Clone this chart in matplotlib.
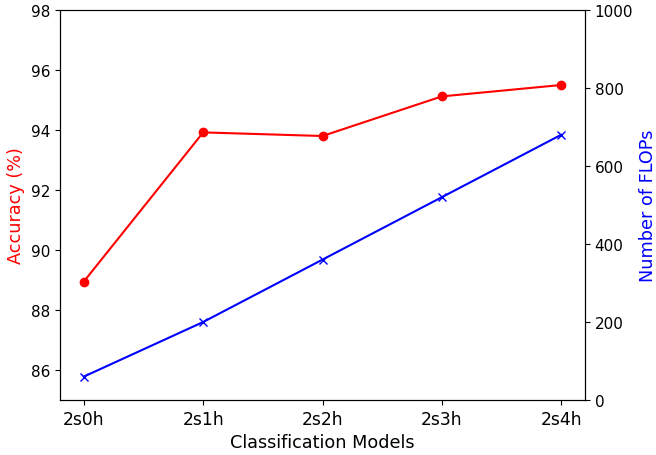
import matplotlib
matplotlib.use("Agg")
import matplotlib.pyplot as plt

models = ["2s0h", "2s1h", "2s2h", "2s3h", "2s4h"]
accuracy = [88.95, 93.92, 93.8, 95.12, 95.5]
flops = [60, 200, 360, 520, 680]

fig = plt.figure(figsize=(6.56, 4.56), dpi=100)
ax1 = fig.add_axes([60/656, 1 - 401/456, 525/656, 390/456])
x = range(len(models))
ax1.plot(x, accuracy, color="red", marker="o")
ax1.set_ylim(85, 98)
ax1.set_yticks([86, 88, 90, 92, 94, 96, 98])
ax1.set_ylabel("Accuracy (%)", color="red", fontsize=12.7)
ax1.set_xlabel("Classification Models", fontsize=12.7)
ax1.set_xticks(list(x))
ax1.set_xticklabels(models, fontsize=12.3)
ax1.tick_params(axis="y", labelsize=11)

ax2 = ax1.twinx()
ax2.plot(x, flops, color="blue", marker="x")
ax2.set_ylim(0, 1000)
ax2.set_yticks([0, 200, 400, 600, 800, 1000])
ax2.set_ylabel("Number of FLOPs", color="blue", fontsize=12.7)
ax2.tick_params(axis="y", labelsize=11)

fig.savefig("out.png", dpi=100)
